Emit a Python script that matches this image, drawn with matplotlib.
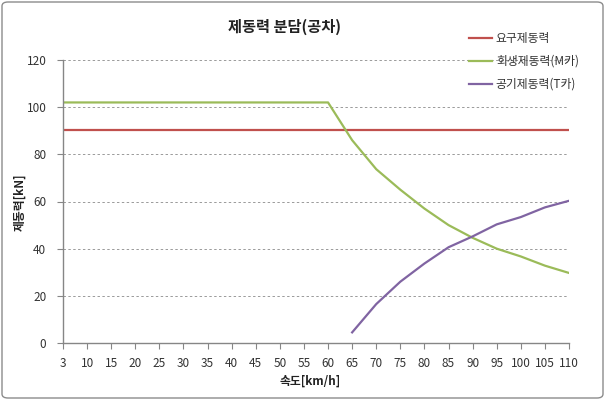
import matplotlib
matplotlib.use("Agg")
import matplotlib.pyplot as plt
from matplotlib.patches import FancyBboxPatch
import numpy as np

plt.rcParams['font.family'] = ['Noto Sans CJK KR', 'DejaVu Sans']

categories = ['3', '10', '15', '20', '25', '30', '35', '40', '45', '50', '55',
              '60', '65', '70', '75', '80', '85', '90', '95', '100', '105', '110']
required = [90.5] * 22
regen = [102, 102, 102, 102, 102, 102, 102, 102, 102, 102, 102,
         102, 86, 73.7, 65, 57, 50, 44.6, 40, 36.7, 32.8, 29.7]
air_cats = ['65', '70', '75', '80', '85', '90', '95', '100', '105', '110']
air = [4.5, 16.5, 26, 33.7, 40.6, 45.2, 50.3, 53.4, 57.5, 60.3]

series_names = ['요구제동력', '회생제동력(M카)', '공기제동력(T카)']
colors = ['#C0504D', '#9BBB59', '#8064A2']

fig = plt.figure(figsize=(6.05, 4.0), dpi=100)
ax = fig.add_axes([63/605, 1-343/400, (569-63)/605, (343-60)/400])

x = np.arange(len(categories))
air_x = [categories.index(c) for c in air_cats]
l1, = ax.plot(x, required, color=colors[0], lw=1.6)
l2, = ax.plot(x, regen, color=colors[1], lw=1.6)
l3, = ax.plot(air_x, air, color=colors[2], lw=1.6)

ax.set_xlim(0, len(categories) - 1)
ax.set_ylim(0, 120)
ax.set_yticks(range(0, 121, 20))
ax.set_xticks(x)
ax.set_xticklabels(categories)
ax.yaxis.grid(True, color='#9a9a9a', ls=(0, (2.5, 2.5)), lw=0.7)
ax.set_axisbelow(True)
for s in ['top', 'right']:
    ax.spines[s].set_visible(False)
for s in ['left', 'bottom']:
    ax.spines[s].set_color('#868686')
    ax.spines[s].set_linewidth(1.0)
ax.tick_params(axis='both', colors='#868686', labelcolor='#333333', labelsize=8.5, length=4, direction='out')
ax.tick_params(axis='x', pad=6)
ax.tick_params(axis='y', pad=8)

fig.text(310/605, 1-381/400, '속도[km/h]', ha='center', va='center',
         fontsize=8.5, fontweight='bold', color='#222222')
fig.text(20/605, 1-202/400, '제동력[kN]', ha='center', va='center', rotation=90,
         fontsize=8.5, fontweight='bold', color='#222222')

fig.text(285/605, 1-27/400, '제동력 분담(공차)', ha='center', va='center',
         fontsize=11, fontweight='bold', color='#222222')

leg = fig.legend([l1, l2, l3], series_names, loc='upper left',
                 bbox_to_anchor=(464/605, 1-27/400), frameon=False,
                 fontsize=8.5, handlelength=2.0, handletextpad=0.3,
                 labelspacing=0.86, borderaxespad=0)
for t in leg.get_texts():
    t.set_color('#333333')

border = FancyBboxPatch((2/605, 2/400), 1-4/605, 1-4/400,
                        boxstyle='round,pad=0,rounding_size=0.01',
                        transform=fig.transFigure, fill=False,
                        edgecolor='#8c8c8c', lw=1.0)
fig.patches.append(border)

fig.savefig('out.png', dpi=100)
